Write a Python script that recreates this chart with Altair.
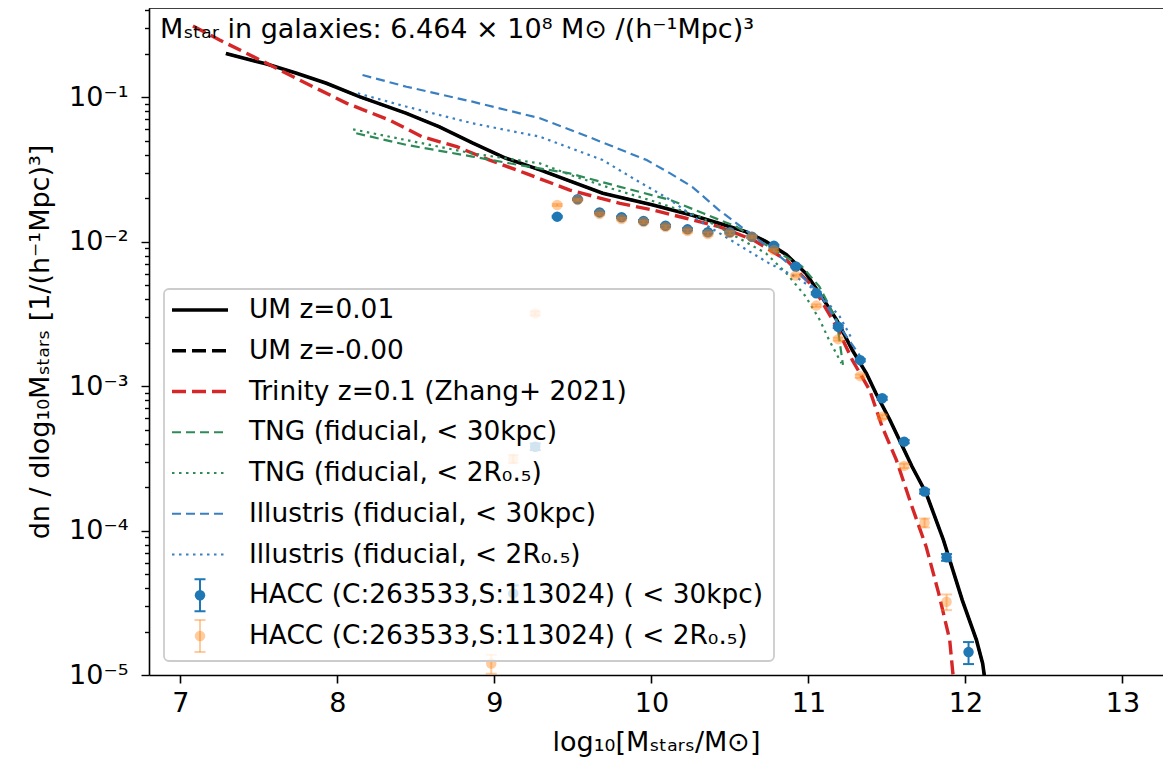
import altair as alt
import pandas as pd

# ---------------- data ----------------
um_x = [7.29, 7.55, 7.74, 7.93, 8.14, 8.44, 8.65, 8.86, 9.07, 9.29, 9.69, 10.01, 10.26, 10.43,
        10.60, 10.73, 10.86, 10.985, 11.07, 11.18, 11.28, 11.37, 11.43, 11.52, 11.66, 11.75,
        11.86, 11.90, 11.98, 12.07, 12.11, 12.12, 12.14]
um_y = [0.200, 0.169, 0.146, 0.1245, 0.1005, 0.0771, 0.0622, 0.0481, 0.0378, 0.0313, 0.0216,
        0.0179, 0.0152, 0.01336, 0.0117, 0.0100, 0.0081, 0.0060, 0.00438, 0.00287, 0.00177,
        0.00122, 0.00089, 0.00058, 0.000277, 0.000181, 8.6e-5, 6.25e-5, 3.3e-5, 1.75e-5,
        1.2e-5, 1.0e-5, 7e-6]

trinity_x = [7.08, 7.25, 7.55, 7.80, 8.06, 8.33, 8.54, 8.76, 8.97, 9.20, 9.48, 9.80, 10.01, 10.22,
             10.43, 10.65, 10.86, 11.03, 11.18, 11.28, 11.39, 11.47, 11.56, 11.66, 11.75, 11.83,
             11.90, 11.92, 11.95]
trinity_y = [0.31, 0.248, 0.171, 0.1245, 0.0904, 0.0693, 0.0531, 0.0453, 0.0366, 0.0296, 0.0227,
             0.01836, 0.01652, 0.01448, 0.01268, 0.01023, 0.00744, 0.00487, 0.00257, 0.00151,
             0.000938, 0.000522, 0.000308, 0.000146, 7.73e-5, 3.67e-5, 1.75e-5, 1.03e-5, 7e-6]

tng30_x = [8.12, 8.44, 8.86, 9.16, 9.48, 9.80, 10.12, 10.33, 10.54, 10.75, 10.96, 11.07, 11.18, 11.22]
tng30_y = [0.0561, 0.0466, 0.0387, 0.0338, 0.0296, 0.0239, 0.0194, 0.01567, 0.01268, 0.0092,
           0.0067, 0.00487, 0.00286, 0.0014]

tng2r_x = [8.10, 8.44, 8.86, 9.29, 9.50, 9.75, 10.00, 10.30, 10.54, 10.73, 10.86, 10.98, 11.07,
           11.13, 11.21]
tng2r_y = [0.0597, 0.0503, 0.0407, 0.0347, 0.0285, 0.0232, 0.0192, 0.0150, 0.0108, 0.00828,
           0.00603, 0.0042, 0.0029, 0.0021, 0.00144]

ill30_x = [8.16, 8.44, 8.86, 9.29, 9.60, 9.97, 10.12, 10.26, 10.43, 10.60, 10.77, 10.92, 11.07,
           11.20, 11.34]
ill30_y = [0.142, 0.1178, 0.0928, 0.0713, 0.053, 0.0366, 0.0296, 0.0239, 0.01651, 0.0120,
           0.00873, 0.00635, 0.00438, 0.00257, 0.00155]

ill2r_x = [8.13, 8.44, 8.86, 9.29, 9.69, 9.90, 10.12, 10.33, 10.54, 10.75, 10.92, 11.07, 11.20, 11.28]
ill2r_y = [0.106, 0.0857, 0.0658, 0.0531, 0.0366, 0.0267, 0.0194, 0.01337, 0.0097, 0.00706,
           0.0057, 0.00438, 0.00302, 0.00209]

hacc30_x = [9.12, 9.26, 9.40, 9.53, 9.67, 9.81, 9.95, 10.09, 10.23, 10.36, 10.50, 10.64, 10.78,
            10.92, 11.05, 11.19, 11.33, 11.47, 11.61, 11.74, 11.88, 12.02]
hacc30_y = [3.67e-5, 3.80e-4, 0.01486, 0.0196, 0.0159, 0.0147, 0.01387, 0.01286, 0.01214, 0.01158,
            0.01158, 0.01079, 0.00935, 0.00672, 0.00438, 0.00257, 0.00151, 0.000822, 0.000412,
            0.000186, 6.52e-5, 1.44e-5]
hacc30_err = [0.5e-5, 0.2e-4, 0.0002, 0.0002, 0.0002, 0.0002, 0.0002, 0.0002, 0.0002, 0.0002,
              0.0002, 0.0002, 0.00015, 0.0001, 0.00008, 0.00005, 0.00003, 0.00002, 0.00001,
              0.000006, 0.0000035, 0.0000025]

hacc2r_x = [8.98, 9.12, 9.26, 9.40, 9.53, 9.67, 9.81, 9.95, 10.09, 10.23, 10.36, 10.50, 10.64,
            10.78, 10.92, 11.05, 11.19, 11.33, 11.47, 11.61, 11.74, 11.88]
hacc2r_y = [1.20e-5, 3.13e-4, 3.18e-3, 0.0179, 0.0194, 0.0155, 0.0143, 0.01365, 0.0126, 0.01182,
            0.01127, 0.01145, 0.01075, 0.00873, 0.00582, 0.0036, 0.00211, 0.00117, 0.000612,
            0.00028, 0.000113, 3.21e-5]
hacc2r_err = [0.18e-5, 0.2e-4, 0.1e-3, 0.0003, 0.0003, 0.0003, 0.0003, 0.0003, 0.0003, 0.0003,
              0.0003, 0.0003, 0.0002, 0.00015, 0.0001, 0.00007, 0.00005, 0.00003, 0.00002,
              0.00001, 0.000008, 0.000004]

x_ticks = [7, 8, 9, 10, 11, 12, 13]
y_major = [1e-5, 1e-4, 1e-3, 1e-2, 1e-1]

legend_labels = [
    "UM z=0.01",
    "UM z=-0.00",
    "Trinity z=0.1 (Zhang+ 2021)",
    "TNG (fiducial, < 30kpc)",
    "TNG (fiducial, < 2R\u2080.\u2085)",
    "Illustris (fiducial, < 30kpc)",
    "Illustris (fiducial, < 2R\u2080.\u2085)",
    "HACC (C:263533,S:113024) ( < 30kpc)",
    "HACC (C:263533,S:113024) ( < 2R\u2080.\u2085)",
]
title_text = "M\u209b\u209c\u2090\u1d63 in galaxies: 6.464 \u00d7 10\u2078 M\u2299 /(h\u207b\u00b9Mpc)\u00b3"

# ---------------- styling ----------------
FONT = "DejaVu Sans"
PX_PER_DEX = 157.0
W, H = 1014, 667
XDOM = [6.8, 6.8 + W / PX_PER_DEX]
YDOM = [1e-5, 0.413]
C_UM = "#000000"
C_TRI = "#d62728"
C_TNG = "#2e8b57"
C_ILL = "#3a80c0"
C_B = "#1f77b4"
C_O = "#ff7f0e"
A_B, A_O = 1.0, 0.4
DASH_BIG = [14, 6]
DASH_SMALL = [9, 5]
DOT = [2.5, 4.5]
LEG_FS = 26.4

y_minor = []
for d in y_major:
    for m in range(2, 10):
        v = m * d
        if v <= YDOM[1]:
            y_minor.append(v)
y_values = y_major + y_minor

major_test = "abs(log(datum.value)/LN10 - round(log(datum.value)/LN10)) < 0.001"
exp_e = "round(log(datum.value)/LN10)"
label_expr = (
    f"{major_test} ? ('10' + ({exp_e} == -1 ? '\u207b\u00b9' : {exp_e} == -2 ? '\u207b\u00b2' : "
    f"{exp_e} == -3 ? '\u207b\u00b3' : {exp_e} == -4 ? '\u207b\u2074' : '\u207b\u2075')) : ''"
)

xaxis = alt.Axis(
    values=x_ticks, title="log\u2081\u2080[M\u209b\u209c\u2090\u1d63\u209b/M\u2299]",
    labelFont=FONT, labelFontSize=27, titleFont=FONT, titleFontSize=27,
    titleFontWeight="normal", labelColor="black", titleColor="black",
    domainColor="black", domainWidth=1.6, tickColor="black", tickWidth=1.6, tickSize=8,
    labelPadding=20, labelBaseline="middle", grid=False,
    titleY=67, titleBaseline="middle",
)
yaxis = alt.Axis(
    values=y_values, labelExpr=label_expr,
    title="dn / dlog\u2081\u2080M\u209b\u209c\u2090\u1d63\u209b [1/(h\u207b\u00b9Mpc)\u00b3]",
    labelFont=FONT, labelFontSize=27, titleFont=FONT, titleFontSize=27,
    titleFontWeight="normal", labelColor="black", titleColor="black",
    domainColor="black", domainWidth=1.6, tickColor="black", tickWidth=1.4,
    tickSize={"condition": {"test": major_test, "value": 8}, "value": 4.5},
    labelPadding=13, labelOverlap=False, labelBound=False, grid=False,
    titleX=-109, titleBaseline="middle",
)


def X():
    return alt.X("x:Q", scale=alt.Scale(domain=XDOM, nice=False, zero=False), axis=xaxis)


def Y(field="y"):
    return alt.Y(f"{field}:Q", scale=alt.Scale(type="log", domain=YDOM, nice=False), axis=yaxis)


def line(xs, ys, color, width, dash=None):
    kw = dict(color=color, strokeWidth=width, clip=True)
    if dash is not None:
        kw["strokeDash"] = dash
    return alt.Chart(pd.DataFrame({"x": xs, "y": ys})).mark_line(**kw).encode(x=X(), y=Y())


def hacc(xs, ys, errs, alpha, color):
    df = pd.DataFrame({"x": xs, "y": ys,
                       "lo": [y - e for y, e in zip(ys, errs)],
                       "hi": [y + e for y, e in zip(ys, errs)]})
    base = alt.Chart(df)
    bars = base.mark_rule(color=color, strokeWidth=2, opacity=alpha, clip=True).encode(
        x=X(), y=Y("lo"), y2=alt.Y2("hi"))
    cap_lo = base.mark_tick(color=color, orient="horizontal", size=11, thickness=2,
                            opacity=alpha, clip=True).encode(x=X(), y=Y("lo"))
    cap_hi = base.mark_tick(color=color, orient="horizontal", size=11, thickness=2,
                            opacity=alpha, clip=True).encode(x=X(), y=Y("hi"))
    pts = base.mark_point(filled=True, shape="circle", size=110, color=color,
                          opacity=alpha).encode(x=X(), y=Y())
    return [bars, cap_lo, cap_hi, pts]


one = pd.DataFrame({"k": [0]})

layers = [
    line(um_x, um_y, C_UM, 2.6, DASH_BIG),
    line(um_x, um_y, C_UM, 3.6),
    line(trinity_x, trinity_y, C_TRI, 3.4, DASH_BIG),
    line(tng30_x, tng30_y, C_TNG, 2.2, DASH_SMALL),
    line(tng2r_x, tng2r_y, C_TNG, 2.2, DOT),
    line(ill30_x, ill30_y, C_ILL, 2.2, DASH_SMALL),
    line(ill2r_x, ill2r_y, C_ILL, 2.2, DOT),
]
layers += hacc(hacc30_x, hacc30_y, hacc30_err, A_B, C_B)
layers += hacc(hacc2r_x, hacc2r_y, hacc2r_err, A_O, C_O)

# top spine
layers.append(alt.Chart(one).mark_rule(color="black", strokeWidth=1.6).encode(
    x=alt.value(0), x2=alt.value(W), y=alt.value(0)))

# title text inside the axes
layers.append(alt.Chart(pd.DataFrame({"t": [title_text]})).mark_text(
    align="left", baseline="middle", font=FONT, fontSize=27, color="black").encode(
    x=alt.value(11), y=alt.value(22), text="t:N"))

# ---------------- legend ----------------
LX0, LX1, LY0, LY1 = 15, 625, 281, 653
row0, step = 302, 40.75
rows = [row0 + i * step for i in range(len(legend_labels))]
layers.append(alt.Chart(one).mark_rect(fill="white", fillOpacity=0.8, stroke="#cccccc",
                                       strokeWidth=1.8, cornerRadius=5).encode(
    x=alt.value(LX0), x2=alt.value(LX1), y=alt.value(LY0), y2=alt.value(LY1)))

leg_styles = [
    (C_UM, 3.6, None), (C_UM, 3.6, DASH_BIG), (C_TRI, 3.6, DASH_BIG),
    (C_TNG, 2.2, DASH_SMALL), (C_TNG, 2.2, DOT), (C_ILL, 2.2, DASH_SMALL), (C_ILL, 2.2, DOT),
]
for i, (c, w, d) in enumerate(leg_styles):
    kw = dict(color=c, strokeWidth=w)
    if d is not None:
        kw["strokeDash"] = d
    layers.append(alt.Chart(one).mark_rule(**kw).encode(
        x=alt.value(23), x2=alt.value(79), y=alt.value(rows[i])))

for i, (c, a) in zip([7, 8], [(C_B, A_B), (C_O, A_O)]):
    r = rows[i]
    layers.append(alt.Chart(one).mark_rule(color=c, strokeWidth=2, opacity=a).encode(
        x=alt.value(51), y=alt.value(r - 16), y2=alt.value(r + 16)))
    layers.append(alt.Chart(one).mark_rule(color=c, strokeWidth=2, opacity=a).encode(
        x=alt.value(45.5), x2=alt.value(56.5), y=alt.value(r - 16)))
    layers.append(alt.Chart(one).mark_rule(color=c, strokeWidth=2, opacity=a).encode(
        x=alt.value(45.5), x2=alt.value(56.5), y=alt.value(r + 16)))
    layers.append(alt.Chart(one).mark_point(filled=True, shape="circle", size=110, color=c,
                                            opacity=a).encode(x=alt.value(51), y=alt.value(r)))

for i, lab in enumerate(legend_labels):
    layers.append(alt.Chart(pd.DataFrame({"t": [lab]})).mark_text(
        align="left", baseline="middle", font=FONT, fontSize=LEG_FS, color="black").encode(
        x=alt.value(100), y=alt.value(rows[i]), text="t:N"))

chart = alt.layer(*layers).properties(
    width=W, height=H,
    autosize=alt.AutoSizeParams(type="none"),
    padding={"left": 141, "top": 0, "right": 0, "bottom": 82},
    background="white",
).configure_view(stroke="transparent")

chart.save("out.html", embed_options={"renderer": "svg", "actions": False})
